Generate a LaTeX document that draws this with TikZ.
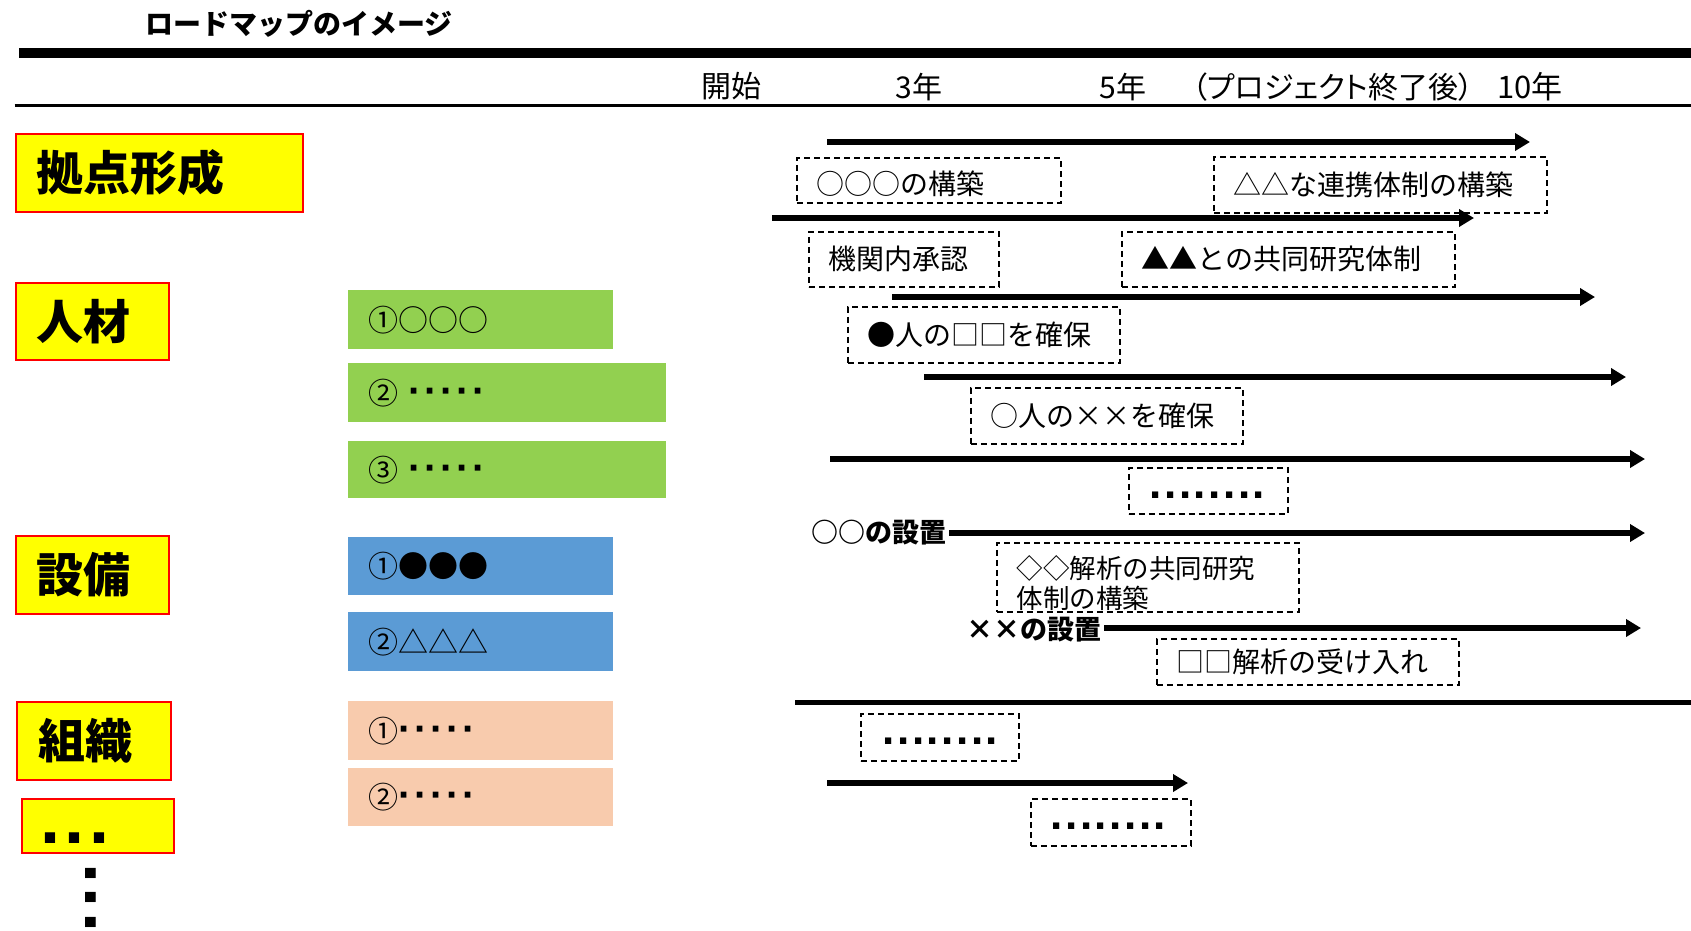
\documentclass[tikz,border=0pt]{standalone}
\usepackage{fontspec}
\setmainfont{Noto Sans CJK JP}
\newfontfamily\dotf{Liberation Sans}
\usetikzlibrary{arrows.meta}
\definecolor{lblyellow}{HTML}{FFFF00}
\definecolor{lblred}{HTML}{FF0000}
\definecolor{bargreen}{HTML}{92D050}
\definecolor{barblue}{HTML}{5B9BD5}
\definecolor{barpeach}{HTML}{F8CBAD}
\newcommand\fs[1]{\fontsize{#1}{#1}\selectfont}
\newcommand\bigdots{{\dotf\bfseries\fs{72}.\kern4.5pt.\kern4.5pt.}}
\newcommand\rowdots{{\dotf\bfseries\fs{44}.\kern2.5pt.\kern2.5pt.\kern2.5pt.\kern2.5pt.\kern2.5pt.\kern2.5pt.\kern2.5pt.}}
\newcommand\middots{{\dotf\bfseries\fs{40}·\kern2.7pt·\kern2.7pt·\kern2.7pt·\kern2.7pt·}}
\tikzset{
  lbl/.style={draw=lblred, line width=2pt, fill=lblyellow, anchor=north west,
    inner xsep=21pt, inner ysep=0pt, align=left, font=\fs{47}\bfseries},
  bar/.style={anchor=north west, inner xsep=20pt, inner ysep=0pt, align=left, font=\fs{30}},
  dbox/.style={draw=black, line width=1.5pt, dash pattern=on 6pt off 4pt, anchor=north west,
    inner xsep=20pt, inner ysep=0pt, align=left, font=\fs{28}},
  hdr/.style={font=\fs{30}, inner sep=0pt},
  tl/.style={line width=5.5pt, -{Triangle[length=15pt,width=17pt]}},
  setlbl/.style={font=\fs{27}\bfseries, inner xsep=2pt, inner ysep=0pt, anchor=east},
}
\begin{document}
\begin{tikzpicture}[x=1pt,y=-1pt]
\useasboundingbox (0,0) rectangle (1691,930);
\fill[white] (0,0) rectangle (1691,930);

% title and rules
\node[font=\fs{28}\bfseries, inner sep=0pt] (title) at (299,24) {ロードマップのイメージ};
\coordinate (r1a) at (19,53); \coordinate (r1b) at (1691,53);
\draw[line width=10pt] (r1a) -- (r1b);
\coordinate (r2a) at (14.5,105.5); \coordinate (r2b) at (1691,105.5);
\draw[line width=2.5pt] (r2a) -- (r2b);

% header
\node[hdr] (h0) at (731,86) {開始};
\node[hdr] (h3) at (919,87) {3年};
\node[hdr] (h5) at (1123,87) {5年};
\node[hdr, font=\fs{30}\addfontfeatures{RawFeature=+palt}] (hp) at (1333,87) {（プロジェクト終了後）};
\node[hdr, font=\fs{31}] (h10) at (1530,87) {10年};

% left labels
\node[lbl, minimum width=287.5pt, minimum height=78pt, text width=245.5pt] (L1) at (14.5,133) {拠点形成};
\node[lbl, minimum width=153.5pt, minimum height=77pt, text width=111.5pt] (L2) at (14.5,282) {人材};
\node[lbl, minimum width=153.5pt, minimum height=78pt, text width=111.5pt] (L3) at (14.5,535) {設備};
\node[lbl, minimum width=154pt, minimum height=78pt, text width=112pt] (L4) at (16,701) {組織};
\node[lbl, minimum width=152pt, minimum height=54pt, text width=114pt, inner xsep=19pt] (L5) at (20.5,798) {\rule{0pt}{34pt}\bigdots};
\node[inner sep=0pt, rotate=-90] (vd) at (91,898) {\bigdots};

% bars
\node[bar, fill=bargreen, minimum width=265pt, minimum height=59pt, text width=225pt] (B1) at (348,290) {①○○○};
\node[bar, fill=bargreen, minimum width=318pt, minimum height=59pt, text width=278pt] (B2) at (348,363) {②\kern10pt\middots};
\node[bar, fill=bargreen, minimum width=318pt, minimum height=57pt, text width=278pt] (B3) at (348,441) {③\kern10pt\middots};
\node[bar, fill=barblue, minimum width=265pt, minimum height=58pt, text width=225pt] (B4) at (348,537) {①●●●};
\node[bar, fill=barblue, minimum width=265pt, minimum height=59pt, text width=225pt] (B5) at (348,612) {②△△△};
\node[bar, fill=barpeach, minimum width=265pt, minimum height=59pt, text width=225pt] (B6) at (348,701) {①\middots};
\node[bar, fill=barpeach, minimum width=265pt, minimum height=58pt, text width=225pt] (B7) at (348,768) {②\middots};

% dashed boxes
\node[dbox, minimum width=264pt, minimum height=45pt, text width=224pt] (D1) at (796,157) {\rule{0pt}{31pt}○○○の構築};
\node[dbox, minimum width=333pt, minimum height=56pt, text width=293pt] (D2) at (1213,156) {△△な連携体制の構築};
\node[dbox, minimum width=190pt, minimum height=55pt, text width=150pt] (D3) at (808,231) {機関内承認};
\node[dbox, minimum width=333pt, minimum height=55pt, text width=293pt] (D4) at (1121,231) {▲▲との共同研究体制};
\node[dbox, minimum width=272pt, minimum height=56pt, text width=232pt] (D5) at (847,306) {●人の□□を確保};
\node[dbox, minimum width=272pt, minimum height=56pt, text width=232pt] (D6) at (970,387) {○人の××を確保};
\node[dbox, minimum width=159pt, minimum height=46pt, text width=117pt, inner xsep=21pt] (D7) at (1128,467) {\rule{0pt}{16pt}\rowdots};
\node[dbox, minimum width=302pt, minimum height=69pt, text width=262pt, font=\fontsize{26.5}{30}\selectfont] (D8) at (996,542) {\rule{0pt}{35pt}◇◇解析の共同研究\\体制の構築};
\node[dbox, minimum width=302pt, minimum height=46pt, text width=262pt] (D9) at (1156,638) {□□解析の受け入れ};
\node[dbox, minimum width=158pt, minimum height=47pt, text width=114pt, inner xsep=22pt] (D10) at (860,713) {\rule{0pt}{15pt}\rowdots};
\node[dbox, minimum width=160pt, minimum height=47pt, text width=120pt, inner xsep=20pt] (D11) at (1030,798) {\rule{0pt}{15pt}\rowdots};

% timeline arrows
\coordinate (a1s) at (827,142);  \coordinate (a1e) at (1530,142);
\coordinate (a2s) at (772,218);  \coordinate (a2e) at (1474,218);
\coordinate (a3s) at (892,297);  \coordinate (a3e) at (1595,297);
\coordinate (a4s) at (924,377);  \coordinate (a4e) at (1626,377);
\coordinate (a5s) at (830,459);  \coordinate (a5e) at (1645,459);
\coordinate (a6e) at (1645,533);
\coordinate (a7e) at (1641,628);
\coordinate (l8s) at (795,702);  \coordinate (l8e) at (1691,702);
\coordinate (a9s) at (827,783);  \coordinate (a9e) at (1188,783);
\node[setlbl] (S1) at (949,533) {○○の設置};
\node[setlbl] (S2) at (1104,630) {××の設置};

\draw[tl] (a1s) -- (a1e);
\draw[tl] (a2s) -- (a2e);
\draw[tl] (a3s) -- (a3e);
\draw[tl] (a4s) -- (a4e);
\draw[tl] (a5s) -- (a5e);
\draw[tl] (S1.east) -- (a6e);
\draw[tl] (S2.east |- a7e) -- (a7e);
\draw[line width=5pt] (l8s) -- (l8e);
\draw[tl] (a9s) -- (a9e);
\end{tikzpicture}
\end{document}
